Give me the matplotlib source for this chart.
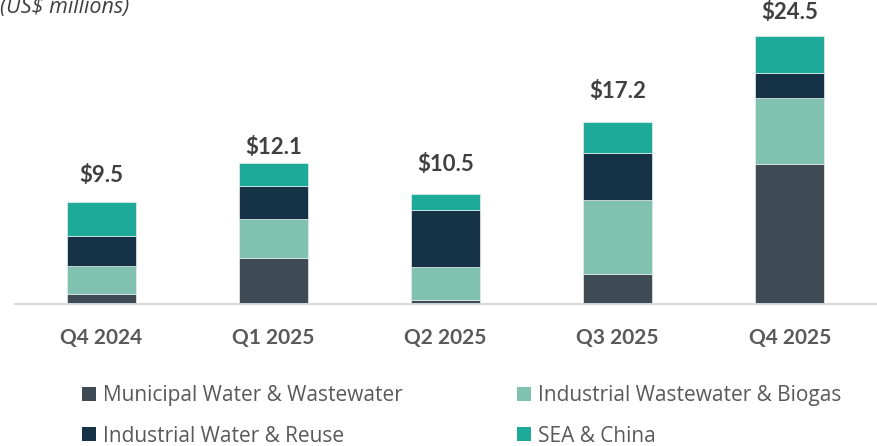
import matplotlib
matplotlib.use("Agg")
import matplotlib.pyplot as plt
from matplotlib.patches import Patch

quarters = ["Q4 2024", "Q1 2025", "Q2 2025", "Q3 2025", "Q4 2025"]
totals = [9.5, 12.1, 10.5, 17.2, 24.5]
municipal = [0.77, 4.14, 0.22, 2.67, 12.78]
ind_wastewater = [2.60, 3.58, 3.03, 6.75, 6.04]
ind_water_reuse = [2.73, 3.03, 5.29, 4.38, 2.33]
sea_china = [3.13, 2.11, 1.44, 2.82, 3.37]

series_names = ["Municipal Water & Wastewater", "Industrial Wastewater & Biogas",
                "Industrial Water & Reuse", "SEA & China"]
series = [municipal, ind_wastewater, ind_water_reuse, sea_china]
colors = ["#3E4A54", "#80C1AF", "#153247", "#1EAA99"]

plt.rcParams['font.family'] = ['Lato', 'DejaVu Sans']

W, H = 877, 446
PX_PER_UNIT = 10.88
fig = plt.figure(figsize=(W / 100, H / 100), dpi=100)
ax_left, ax_right, ax_bottom_px, ax_top_px = 15, 876, 304, 0
ax = fig.add_axes([ax_left / W, (H - ax_bottom_px) / H,
                   (ax_right - ax_left) / W, (ax_bottom_px - ax_top_px) / H])

x = list(range(len(quarters)))
bottom = [0.0] * len(quarters)
handles = []
for name, vals, col in zip(series_names, series, colors):
    ax.bar(x, vals, width=0.40, bottom=bottom, color=col,
           edgecolor="#e8eef0", linewidth=0.5, zorder=3)
    bottom = [b + v for b, v in zip(bottom, vals)]
    handles.append(Patch(facecolor=col, edgecolor="none", label=name))

for i, t in enumerate(totals):
    ax.annotate(f"${t:.1f}", xy=(i, t), xytext=(0, 17), textcoords="offset points",
                ha="center", va="center", fontsize=16, fontweight="bold",
                color="#404040")

ax.set_xlim(-0.5, 4.5)
ax.set_ylim(-1.3 / PX_PER_UNIT, (ax_bottom_px - 1.3) / PX_PER_UNIT)
ax.set_xticks(x)
ax.set_xticklabels(quarters, fontsize=15, fontweight="bold", color="#595959")
ax.tick_params(axis="x", length=0, pad=17)
ax.set_yticks([])
for s in ["top", "right", "left"]:
    ax.spines[s].set_visible(False)
ax.spines["bottom"].set_color("#d9d9d9")
ax.spines["bottom"].set_linewidth(1.5)
ax.spines["bottom"].set_zorder(1)

fig.text(0.0, 1 - 7 / H, "(US$ millions)", fontsize=15.5, fontstyle="italic",
         family=["Open Sans", "DejaVu Sans"],
         color="#404040", ha="left", va="center")

leg_kw = dict(frameon=False, handlelength=0.68, handleheight=0.68,
              handletextpad=0.35, labelspacing=0.92, borderaxespad=0, borderpad=0,
              labelcolor="#595959",
              prop={"family": ["Open Sans", "DejaVu Sans"], "size": 15})
fig.legend(handles=[handles[0], handles[2]], loc="center left",
           bbox_to_anchor=(82 / W, 1 - 416 / H), **leg_kw)
fig.legend(handles=[handles[1], handles[3]], loc="center left",
           bbox_to_anchor=(517 / W, 1 - 416 / H), **leg_kw)

fig.savefig("out.png", dpi=100)
